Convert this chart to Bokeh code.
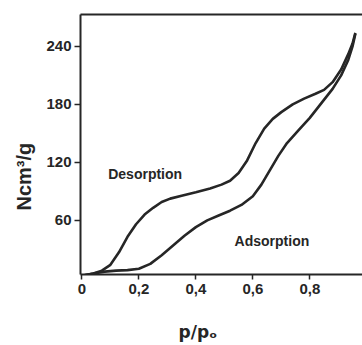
from bokeh.plotting import figure
from bokeh.models import Range1d, LinearAxis, FixedTicker, Label, Title
from bokeh.embed import file_html
from bokeh.resources import INLINE

# data
des_x = [0.004, 0.04, 0.07, 0.10, 0.13, 0.16, 0.19, 0.22, 0.25, 0.28, 0.31, 0.35, 0.40, 0.45, 0.49, 0.52,
         0.55, 0.58, 0.61, 0.64, 0.67, 0.70, 0.74, 0.78, 0.82, 0.85, 0.88, 0.91, 0.935, 0.95, 0.96]
des_y = [3, 5, 8, 14, 27, 43, 56, 66, 73, 79, 82.5, 85.5, 89, 93, 97, 101,
         109, 122, 140, 155, 165, 172, 180, 186, 191, 195, 203, 216, 232, 243, 254]
ads_x = [0.004, 0.04, 0.08, 0.12, 0.16, 0.20, 0.24, 0.28, 0.32, 0.36, 0.40, 0.44, 0.48, 0.52, 0.56,
         0.60, 0.63, 0.66, 0.69, 0.72, 0.76, 0.80, 0.84, 0.88, 0.91, 0.935, 0.95, 0.96]
ads_y = [3, 5, 7, 8, 8.5, 10, 15, 24, 34, 44, 53, 60, 65, 70, 76,
         85, 97, 112, 127, 140, 153, 166, 181, 196, 210, 226, 240, 253]
x_ticks = [0, 0.2, 0.4, 0.6, 0.8, 1.0]
x_tick_labels = ["0", "0,2", "0,4", "0,6", "0,8", "1"]
y_ticks = [60, 120, 180, 240]

INK = "#262626"
FONT = "Liberation Sans"

p = figure(width=362, height=345, output_backend="svg", toolbar_location=None,
           x_range=Range1d(-0.005, 0.985), y_range=Range1d(4, 273),
           min_border_left=80, min_border_right=0, min_border_top=14, min_border_bottom=71)
p.outline_line_color = None
p.grid.visible = False
p.background_fill_color = "white"

p.line(des_x, des_y, line_color=INK, line_width=2.6, line_join="round")
p.line(ads_x, ads_y, line_color=INK, line_width=2.6, line_join="round")

xa = p.xaxis[0]
xa.ticker = FixedTicker(ticks=x_ticks)
xa.major_label_overrides = {t: l for t, l in zip(x_ticks, x_tick_labels)}
xa.major_tick_out = 5
xa.major_tick_in = 0
xa.minor_tick_line_color = None
xa.axis_line_width = 2
xa.axis_line_color = INK
xa.major_tick_line_width = 1.5
xa.major_tick_line_color = INK
xa.major_label_standoff = 4
xa.major_label_text_font = FONT
xa.major_label_text_font_style = "bold"
xa.major_label_text_font_size = "15px"
xa.major_label_text_color = INK

ya = p.yaxis[0]
ya.ticker = FixedTicker(ticks=y_ticks)
ya.major_tick_out = 6
ya.major_tick_in = 0
ya.minor_tick_line_color = None
ya.axis_line_width = 2
ya.axis_line_color = INK
ya.major_tick_line_width = 1.5
ya.major_tick_line_color = INK
ya.major_label_standoff = 3
ya.major_label_text_font = FONT
ya.major_label_text_font_style = "bold"
ya.major_label_text_font_size = "15px"
ya.major_label_text_color = INK

top = LinearAxis(ticker=FixedTicker(ticks=[]), axis_line_width=2, axis_line_color=INK,
                 major_tick_out=0, major_tick_in=0, major_label_standoff=0,
                 major_tick_line_color=None, minor_tick_line_color=None,
                 major_label_text_font_size="0px")
p.add_layout(top, "above")

# invisible spacer below the x axis, so that the x title sits lower
spacer = LinearAxis(ticker=FixedTicker(ticks=[0.5]), axis_line_color=None,
                    major_tick_out=22, major_tick_in=0, major_label_standoff=0,
                    major_tick_line_color=None, minor_tick_line_color=None,
                    major_label_overrides={0.5: ""}, major_label_text_alpha=0,
                    major_label_text_font_size="1px")
p.add_layout(spacer, "below")

p.add_layout(Label(x=0.222, y=108, text="Desorption", text_font=FONT, text_font_style="bold",
                   text_font_size="14px", text_color=INK, text_align="center", text_baseline="middle"))
p.add_layout(Label(x=0.667, y=39, text="Adsorption", text_font=FONT, text_font_style="bold",
                   text_font_size="14px", text_color=INK, text_align="center", text_baseline="middle"))

# axis titles as side-panel titles
p.add_layout(Title(text="Ncm³/g", align="left", offset=64, standoff=18,
                   text_font=FONT, text_font_style="bold", text_font_size="20px",
                   text_color=INK), "left")
p.add_layout(Title(text="p/pₒ", align="left", offset=98, standoff=2,
                   text_font="DejaVu Sans", text_font_style="bold", text_font_size="17px",
                   text_color=INK), "below")

open("out.html", "w").write(file_html(p, INLINE))
